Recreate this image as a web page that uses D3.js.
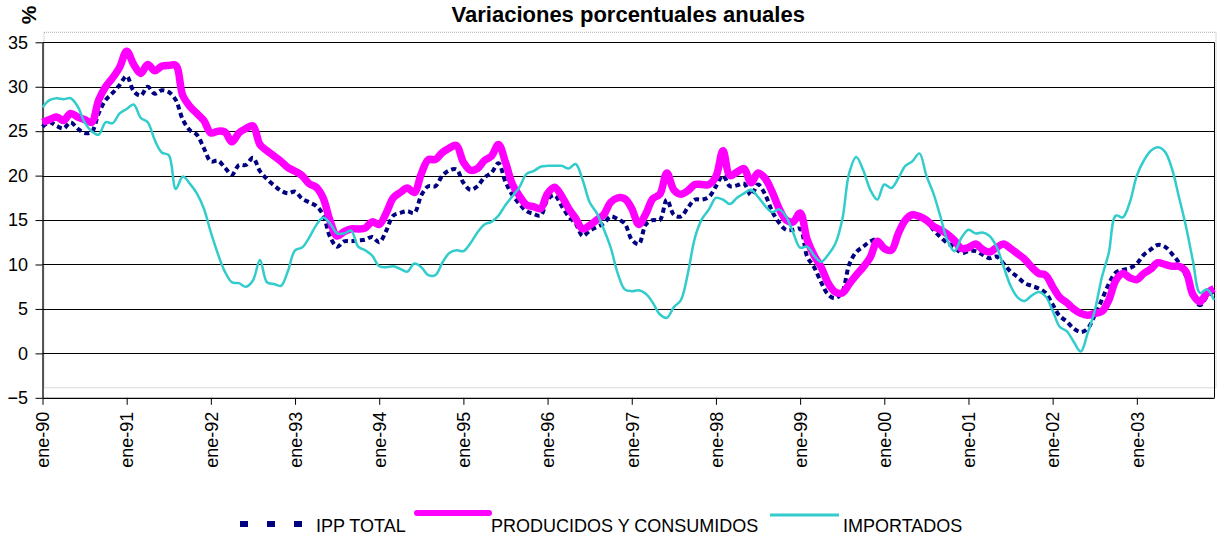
<!DOCTYPE html>
<html>
<head>
<meta charset="utf-8">
<script src="https://cdn.jsdelivr.net/npm/d3@7"></script>
<style>
  body { margin: 0; background: #ffffff; }
  svg { display: block; }
</style>
</head>
<body>
<div id="chart"></div>
<script>
// Year tick labels (one per January, from ene-90 to ene-03)
const yearLabels = ["ene-90", "ene-91", "ene-92", "ene-93", "ene-94", "ene-95", "ene-96",
  "ene-97", "ene-98", "ene-99", "ene-00", "ene-01", "ene-02", "ene-03"];

// Monthly annual % change, ene-90 .. dic-03 (168 months)
const ippTotal = [
  25.5, 26.0, 25.6, 25.3, 26.0, 25.3, 24.8, 24.9, 27.0, 28.5, 29.3, 30.2, 31.2, 29.5, 29.0, 30.0, 29.2,
  29.6, 29.4, 28.5, 26.3, 25.1, 24.6, 23.1, 21.6, 21.7, 20.9, 20.1, 21.2, 21.2, 22.0, 20.5, 19.6, 18.9,
  18.3, 18.0, 18.2, 17.4, 17.0, 16.6, 15.6, 13.1, 12.0, 12.6, 12.6, 12.7, 12.8, 13.1, 12.5,
  13.8, 15.5, 15.8, 16.0, 15.8, 17.8, 18.8, 18.8, 20.0, 20.6, 20.7, 19.2, 18.4, 18.8, 19.8, 20.3, 21.4,
  19.3, 17.8, 16.8, 16.0, 15.7, 15.5, 17.3, 17.8, 16.6, 15.4, 14.6, 13.2, 13.8, 14.2, 14.6, 15.4, 15.1,
  14.6, 12.8, 12.3, 14.5, 15.0, 15.0, 17.3, 15.6, 15.4, 16.4, 17.3, 17.3, 17.6, 18.8, 20.0, 18.8,
  18.9, 19.1, 17.8, 19.0, 17.9, 16.0, 14.7, 13.9, 13.9, 14.0, 10.9, 9.7, 8.0, 6.6, 6.2, 6.9, 10.0,
  11.4, 12.0, 12.6, 12.8, 11.6, 11.7, 13.4, 15.0, 15.7, 15.6, 15.0, 13.9, 13.1, 12.4, 12.0, 11.3,
  11.5, 11.5, 11.1, 10.7, 10.9, 10.1, 9.2, 8.6, 7.9, 7.6, 7.3, 6.8, 5.5, 4.2, 3.6, 2.8, 2.4,
  2.8, 4.3, 6.0, 7.8, 9.1, 9.4, 9.6, 10.1, 11.1, 11.7, 12.2, 12.0, 11.2, 10.2, 8.7, 6.5, 5.4, 6.4, 7.0
];

const producidos = [
  26.0, 26.3, 26.6, 26.2, 27.0, 26.6, 26.3, 26.0, 28.5, 30.0, 31.0, 32.2, 34.0, 32.5, 31.5, 32.5, 31.8,
  32.3, 32.4, 32.4, 29.0, 27.8, 27.0, 26.2, 24.8, 25.0, 24.9, 23.8, 24.8, 25.3, 25.6, 23.5, 22.8, 22.2,
  21.6, 20.9, 20.5, 20.0, 19.1, 18.7, 17.5, 14.9, 13.2, 13.7, 14.0, 14.0, 14.1, 14.8, 14.5,
  15.8, 17.5, 18.1, 18.6, 18.1, 20.2, 21.8, 21.8, 22.6, 23.1, 23.4, 21.5, 20.6, 20.8, 21.7, 22.2, 23.5,
  21.5, 19.0, 17.7, 16.7, 16.5, 16.3, 18.0, 18.7, 17.7, 16.3, 15.2, 14.0, 14.4, 15.0, 15.6, 17.0, 17.5,
  17.4, 16.3, 14.5, 15.7, 17.4, 17.9, 20.3, 18.4, 17.9, 18.3, 19.0, 19.0, 19.0, 19.9, 22.8, 20.0,
  20.4, 20.8, 19.2, 20.3, 19.7, 18.2, 16.3, 15.0, 14.8, 15.8, 12.8, 11.0, 9.7, 7.9, 6.9, 6.8, 7.8,
  8.8, 9.7, 10.8, 12.6, 11.8, 11.6, 13.5, 15.0, 15.6, 15.4, 15.0, 14.3, 13.9, 13.4, 12.7, 11.8,
  11.9, 12.3, 11.7, 11.4, 11.9, 12.3, 11.8, 11.2, 10.6, 9.7, 9.0, 8.8, 7.5, 6.3, 5.7, 5.0, 4.5,
  4.3, 4.5, 4.7, 6.0, 8.2, 9.0, 8.5, 8.3, 9.0, 9.5, 10.2, 10.0, 9.8, 9.8, 9.2, 6.6, 5.8, 6.8, 7.3
];

const importados = [
  27.7, 28.5, 28.7, 28.6, 28.7, 27.8, 26.0, 25.0, 24.6, 26.0, 25.9, 27.0, 27.5, 28.0, 26.5, 26.0, 24.0,
  22.6, 22.3, 18.5, 19.9, 19.1, 18.0, 16.3, 13.6, 11.2, 9.2, 8.0, 7.9, 7.5, 8.2, 10.5, 8.0, 7.8,
  7.6, 9.3, 11.6, 11.9, 13.0, 14.4, 15.3, 14.6, 13.5, 13.5, 13.8, 12.0, 11.6, 11.0, 9.8,
  9.7, 9.8, 9.5, 9.2, 10.1, 9.7, 8.8, 8.8, 10.2, 11.3, 11.6, 11.5, 12.4, 13.6, 14.5, 14.8, 15.5,
  16.7, 17.7, 18.7, 20.2, 20.5, 21.0, 21.1, 21.1, 21.1, 20.8, 21.3, 19.5, 17.0, 15.8, 14.0, 11.9, 9.0,
  7.2, 7.0, 7.1, 6.7, 5.7, 4.4, 4.0, 5.2, 6.0, 9.0, 13.0, 15.1, 16.2, 17.5, 17.3, 16.8,
  17.5, 18.0, 18.4, 17.6, 16.6, 15.9, 16.2, 15.4, 13.6, 11.9, 12.0, 11.0, 10.3, 11.1, 12.3, 15.0, 20.3,
  22.1, 20.6, 18.4, 17.3, 19.0, 18.6, 19.7, 21.1, 21.6, 22.5, 20.0, 18.0, 15.4, 12.7, 11.5, 13.0,
  13.9, 13.5, 13.6, 13.2, 12.0, 9.8, 7.6, 6.3, 5.9, 6.5, 6.9, 6.4, 4.8, 3.0, 2.5, 1.3, 0.2,
  2.3, 4.8, 8.5, 11.3, 15.5, 15.3, 17.0, 20.0, 21.7, 22.8, 23.2, 22.7, 20.8, 17.6, 14.3, 10.4, 6.8, 7.2, 6.0
];

const yTicks = [-5, 0, 5, 10, 15, 20, 25, 30, 35];

const width = 1217;
const height = 537;
const margin = { top: 42.3, right: 3, bottom: 139.2, left: 42.5 };
const font = "Arial, 'Liberation Sans', sans-serif";

const svg = d3.select("#chart")
  .append("svg")
  .attr("width", width)
  .attr("height", height)
  .style("background", "#ffffff");

// Scales: x = month index, y = percent
const x = d3.scaleLinear()
  .domain([0, ippTotal.length - 1])
  .range([margin.left, width - margin.right]);

const y = d3.scaleLinear()
  .domain([-5, 35])
  .range([height - margin.bottom, margin.top]);

// Grey dotted plot-area frame
svg.append("rect")
  .attr("x", margin.left + 1.5)
  .attr("y", margin.top - 10)
  .attr("width", width - margin.right - margin.left + 0.5)
  .attr("height", y(-5) - margin.top)
  .attr("fill", "none")
  .attr("stroke", "#b0b0b0")
  .attr("stroke-width", 1)
  .attr("stroke-dasharray", "1,1");

// Horizontal gridlines
svg.append("g")
  .selectAll("line")
  .data(yTicks.filter(d => d > -5))
  .join("line")
  .attr("x1", margin.left)
  .attr("x2", width - margin.right)
  .attr("y1", d => Math.round(y(d)) + 0.5)
  .attr("y2", d => Math.round(y(d)) + 0.5)
  .attr("stroke", "#000")
  .attr("stroke-width", 1);

// Right border of the plot
svg.append("line")
  .attr("x1", width - margin.right + 0.5)
  .attr("x2", width - margin.right + 0.5)
  .attr("y1", y(35))
  .attr("y2", y(-5))
  .attr("stroke", "#000");

// Y axis
const yAxis = svg.append("g")
  .attr("transform", `translate(${margin.left}, 0)`)
  .call(d3.axisLeft(y).tickValues(yTicks).tickSize(7).tickPadding(7.5).tickSizeOuter(0));
yAxis.select(".domain").attr("stroke", "#000").attr("stroke-width", 1.3);
yAxis.selectAll("line").attr("stroke", "#000");
yAxis.selectAll("text")
  .style("font-family", font)
  .style("font-size", "18px")
  .attr("fill", "#000");

// X axis with rotated year labels
const xAxis = svg.append("g")
  .attr("transform", `translate(0, ${y(-5)})`)
  .call(d3.axisBottom(x)
    .tickValues(yearLabels.map((d, i) => i * 12))
    .tickFormat((d, i) => yearLabels[i])
    .tickSize(7)
    .tickSizeOuter(0));
xAxis.select(".domain").attr("stroke", "#000").attr("stroke-width", 1.3);
xAxis.selectAll("line").attr("stroke", "#000");
xAxis.selectAll("text")
  .attr("y", 0)
  .attr("x", 0)
  .attr("dy", "0.35em")
  .attr("transform", "translate(0, 14) rotate(-90)")
  .attr("text-anchor", "end")
  .style("font-family", font)
  .style("font-size", "18px")
  .attr("fill", "#000");

// Series lines
const line = d3.line()
  .x((d, i) => x(i))
  .y(d => y(d))
  .curve(d3.curveCatmullRom.alpha(0.5));

svg.append("path")
  .datum(ippTotal)
  .attr("d", line)
  .attr("fill", "none")
  .attr("stroke", "#000080")
  .attr("stroke-width", 4)
  .attr("stroke-dasharray", "5,3.5");

svg.append("path")
  .datum(producidos)
  .attr("d", line)
  .attr("fill", "none")
  .attr("stroke", "#ff00ff")
  .attr("stroke-width", 7.5)
  .attr("stroke-linejoin", "round");

svg.append("path")
  .datum(importados)
  .attr("d", line)
  .attr("fill", "none")
  .attr("stroke", "#33cccc")
  .attr("stroke-width", 2.5);

// Title
svg.append("text")
  .attr("x", (margin.left + width - margin.right) / 2)
  .attr("y", 22)
  .attr("text-anchor", "middle")
  .style("font-family", font)
  .style("font-size", "22px")
  .style("font-weight", "bold")
  .text("Variaciones porcentuales anuales");

// Y axis unit label
svg.append("text")
  .attr("transform", "translate(36, 15) rotate(-90)")
  .attr("text-anchor", "middle")
  .style("font-family", font)
  .style("font-size", "21px")
  .style("font-weight", "bold")
  .text("%");

// Legend
const legend = svg.append("g");

legend.append("line")
  .attr("x1", 240).attr("x2", 304)
  .attr("y1", 524).attr("y2", 524)
  .attr("stroke", "#000080")
  .attr("stroke-width", 6)
  .attr("stroke-dasharray", "8,19");

legend.append("text")
  .attr("x", 316).attr("y", 532)
  .style("font-family", font)
  .style("font-size", "18px")
  .text("IPP TOTAL");

legend.append("line")
  .attr("x1", 417).attr("x2", 489)
  .attr("y1", 513).attr("y2", 513)
  .attr("stroke", "#ff00ff")
  .attr("stroke-width", 6)
  .attr("stroke-linecap", "round");

legend.append("text")
  .attr("x", 491).attr("y", 532)
  .style("font-family", font)
  .style("font-size", "18px")
  .text("PRODUCIDOS Y CONSUMIDOS");

legend.append("line")
  .attr("x1", 770).attr("x2", 839)
  .attr("y1", 515).attr("y2", 515)
  .attr("stroke", "#33cccc")
  .attr("stroke-width", 3);

legend.append("text")
  .attr("x", 843).attr("y", 532)
  .style("font-family", font)
  .style("font-size", "18px")
  .text("IMPORTADOS");
</script>
</body>
</html>
